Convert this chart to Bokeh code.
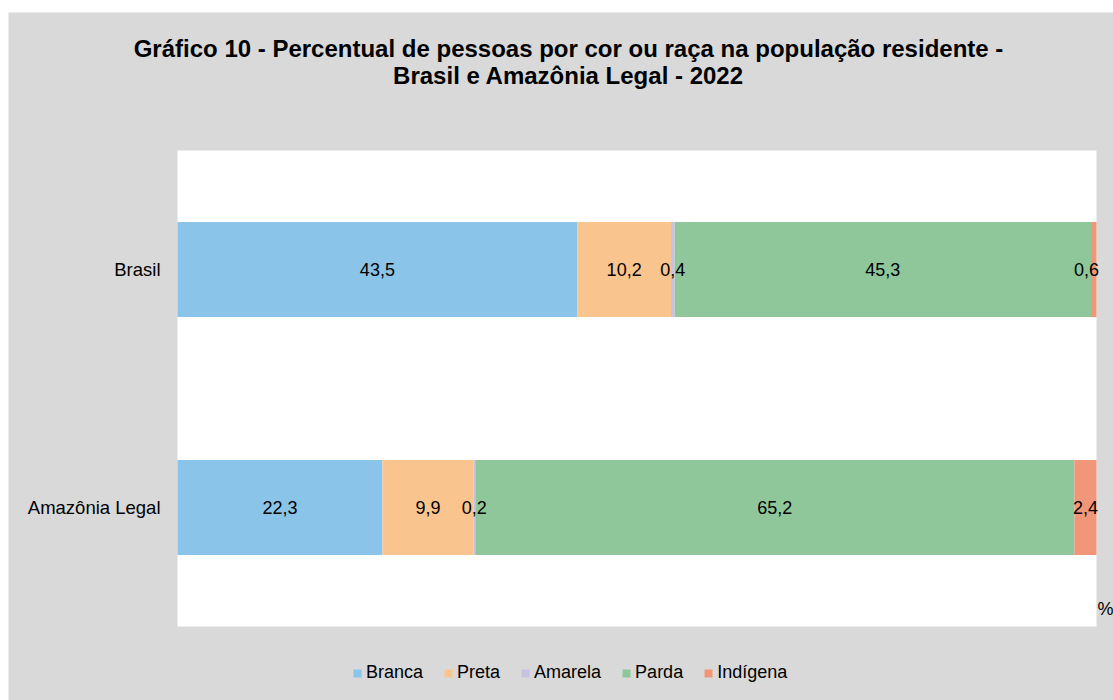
from bokeh.plotting import figure
from bokeh.models import Range1d, Legend, LegendItem, Label, ColumnDataSource, Spacer
from bokeh.layouts import column, row
from bokeh.core.properties import value
from bokeh.embed import file_html
from bokeh.resources import INLINE

# ---- data ----
regions = ["Amazônia Legal", "Brasil"]          # bottom to top
series = ["Branca", "Preta", "Amarela", "Parda", "Indígena"]
branca = [22.3, 43.5]
preta = [9.9, 10.2]
amarela = [0.2, 0.4]
parda = [65.2, 45.3]
indigena = [2.4, 0.6]
colors = ["#8BC4E9", "#F9C48E", "#C8C1E1", "#8FC79A", "#F29679"]

title_l1 = "Gráfico 10 - Percentual de pessoas por cor ou raça na população residente -"
title_l2 = "Brasil e Amazônia Legal - 2022"
unit_label = "%"

FONT = "Liberation Sans"
GREY = "#D9D9D9"

# ---- layout constants (pixels, relative to the figure) ----
FIG_W, FIG_H = 1105, 688
AREA_L, AREA_W = 169, 919       # white plotting area: left edge and width
AREA_T, AREA_B = 138, 614       # white plotting area: top and bottom (from top)
n = len(regions)
px_x = AREA_W / 100.0
px_y = (AREA_B - AREA_T) / n

ypos = [i for i in range(n)]    # category positions (index)
x_start = -AREA_L / px_x
x_end = x_start + FIG_W / px_x
y_start = -0.5 - (FIG_H - AREA_B) / px_y
y_end = (n - 0.5) + AREA_T / px_y

data = {"y": ypos, "Branca": branca, "Preta": preta, "Amarela": amarela,
        "Parda": parda, "Indígena": indigena}
src = ColumnDataSource(data)

p = figure(width=FIG_W, height=FIG_H, output_backend="svg", toolbar_location=None,
           x_range=Range1d(x_start, x_end), y_range=Range1d(y_start, y_end),
           min_border=0, x_axis_type=None, y_axis_type=None)
p.background_fill_color = GREY
p.border_fill_color = GREY
p.outline_line_color = None
p.xgrid.visible = False
p.ygrid.visible = False

# white plotting area
p.quad(left=[0], right=[100], bottom=[-0.5], top=[n - 0.5], color="white", line_width=0)

# category labels
p.text(x=[0] * n, y=ypos, text=regions, x_offset=-17, text_align="right",
       text_baseline="middle", text_font=value(FONT), text_font_size="18.5px",
       text_color="black")

rends = p.hbar_stack(series, y="y", height=0.4, color=colors, source=src, line_width=0)

# value labels
vals = [branca, preta, amarela, parda, indigena]
xs, ys, txt = [], [], []
for i, yv in enumerate(ypos):
    cum = 0.0
    for s in vals:
        v = s[i]
        mid = min(cum + v / 2, 98.9)
        xs.append(mid)
        ys.append(yv)
        txt.append(f"{v:.1f}".replace(".", ","))
        cum += v
p.text(x=xs, y=ys, text=txt, text_align="center", text_baseline="middle",
       text_font=value(FONT), text_font_size="18px", text_color="black")

# title (screen units: x from left, y from bottom of the frame)
for t_, yy in [(title_l1, FIG_H - 36), (title_l2, FIG_H - 63)]:
    p.add_layout(Label(x=560, y=yy, x_units="screen", y_units="screen", text=t_,
                       text_align="center", text_baseline="middle", text_font=FONT,
                       text_font_size="24px", text_font_style="bold", text_color="black"))

p.add_layout(Label(x=AREA_L + AREA_W + 1, y=92, x_units="screen", y_units="screen",
                   text=unit_label, text_align="left", text_baseline="middle", text_font=FONT,
                   text_font_size="18px", text_color="black"))

legend = Legend(items=[LegendItem(label=s, renderers=[r]) for s, r in zip(series, rends)],
                orientation="horizontal", location=(344, 17), glyph_width=10, glyph_height=10,
                label_standoff=4, spacing=20, padding=0, margin=0,
                label_text_font=FONT, label_text_font_size="18px", label_text_color="black",
                border_line_color=None, background_fill_alpha=0)
p.add_layout(legend)

layout = row(Spacer(width=8, height=700), column(Spacer(height=12, width=FIG_W), p))
open("out.html", "w").write(file_html(layout, INLINE))
